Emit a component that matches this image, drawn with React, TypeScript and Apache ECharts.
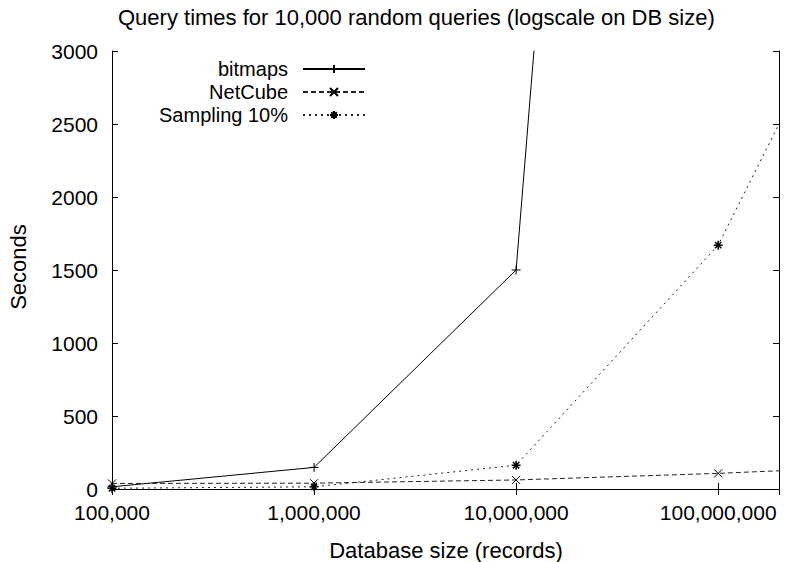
import React, { useEffect, useRef } from "react";
import * as echarts from "echarts";

const titleText = "Query times for 10,000 random queries (logscale on DB size)";
const xName = "Database size (records)";
const yName = "Seconds";
const seriesNames = ["bitmaps", "NetCube", "Sampling 10%"];

// x values (records)
const bitmapsX = [1e5, 1e6, 1e7, 1e8];
const bitmapsY = [15, 148, 1500, 18500];
const netcubeX = [1e5, 1e6, 1e7, 1e8, 2e8];
const netcubeY = [38, 40, 62, 107, 125];
const samplingX = [1e5, 1e6, 1e7, 1e8, 2e8];
const samplingY = [5, 15, 163, 1670, 2500];

const xMin = 1e5;
const xMax = 2e8;
const yMin = 0;
const yMax = 3000;
const yStep = 500;

const FONT = "'Liberation Sans', Arial, sans-serif";
const FS = 22;
const TICK_FS = 21;
const LEGEND_FS = 20;

const PLUS = "path://M5,0L5,10M0,5L10,5";
const CROSS = "path://M0,0L10,10M10,0L0,10";
const STAR = "path://M5,0L5,10M0,5L10,5M1.5,1.5L8.5,8.5M8.5,1.5L1.5,8.5";

function pairs(xs: number[], ys: number[], lastHidden: boolean) {
  return xs.map((x, i) => {
    if (lastHidden && i === xs.length - 1) {
      return { value: [x, ys[i]], symbol: "none" };
    }
    return { value: [x, ys[i]] };
  });
}

export default function App() {
  const ref = useRef<HTMLDivElement>(null);
  useEffect(() => {
    if (!ref.current) return;
    const chart = echarts.init(ref.current, undefined, { renderer: "svg" });
    const fmt = (v: number) => {
      const l = Math.log10(v);
      if (Math.abs(l - Math.round(l)) > 1e-6) return "";
      return Math.round(v).toLocaleString("en-US");
    };
    const axisCommon = {
      axisLine: { show: true, lineStyle: { color: "#000", width: 1 } },
      axisTick: { show: true, inside: true, length: 6, lineStyle: { color: "#000" } },
      splitLine: { show: false },
      minorTick: { show: false },
    };
    const legendCommon = {
      orient: "horizontal",
      align: "right",
      itemWidth: 62,
      itemHeight: 10,
      padding: 0,
      selectedMode: false,
      textStyle: { fontSize: LEGEND_FS, fontFamily: FONT, color: "#000", padding: [0, 10, 0, 0] },
      right: 419,
    };
    chart.setOption({
      animation: false,
      backgroundColor: "#fff",
      title: {
        text: titleText,
        left: 118,
        top: 6,
        padding: 0,
        textStyle: { fontSize: FS, fontWeight: "normal", fontFamily: FONT, color: "#000" },
      },
      legend: [
        { ...legendCommon, data: [seriesNames[0]], top: 59 },
        { ...legendCommon, data: [seriesNames[1]], top: 82 },
        { ...legendCommon, data: [seriesNames[2]], top: 105 },
      ],
      grid: { left: 112, right: 6, top: 51, bottom: 73, containLabel: false },
      xAxis: [
        {
          type: "log",
          logBase: 10,
          min: xMin,
          max: xMax,
          position: "bottom",
          ...axisCommon,
          axisLabel: { fontSize: TICK_FS, lineHeight: 16, fontFamily: FONT, color: "#000", margin: 15, formatter: fmt, showMaxLabel: false },
        },
        {
          type: "log",
          logBase: 10,
          min: xMin,
          max: xMax,
          position: "top",
          ...axisCommon,
          axisLabel: { show: false },
        },
      ],
      yAxis: [
        {
          type: "value",
          min: yMin,
          max: yMax,
          interval: yStep,
          position: "left",
          ...axisCommon,
          axisLabel: { fontSize: TICK_FS, lineHeight: 16, fontFamily: FONT, color: "#000", margin: 14, formatter: (v: number) => String(v) },
        },
        {
          type: "value",
          min: yMin,
          max: yMax,
          interval: yStep,
          position: "right",
          ...axisCommon,
          axisLabel: { show: false },
        },
      ],
      graphic: [
        {
          type: "text",
          x: 18,
          y: 267,
          rotation: Math.PI / 2,
          style: { text: yName, fontSize: FS, fontFamily: FONT, fill: "#000", textAlign: "center", textVerticalAlign: "middle" },
        },
        {
          type: "text",
          x: 446,
          y: 550,
          style: { text: xName, fontSize: FS, fontFamily: FONT, fill: "#000", textAlign: "center", textVerticalAlign: "middle" },
        },
      ],
      series: [
        {
          name: seriesNames[0],
          type: "line",
          data: pairs(bitmapsX, bitmapsY, false),
          symbol: PLUS,
          symbolSize: 9,
          showAllSymbol: true,
          clip: true,
          lineStyle: { color: "#000", width: 1, type: "solid" },
          itemStyle: { color: "#000", borderColor: "#000", borderWidth: 1 },
        },
        {
          name: seriesNames[1],
          type: "line",
          data: pairs(netcubeX, netcubeY, true),
          symbol: CROSS,
          symbolSize: 8,
          showAllSymbol: true,
          clip: true,
          lineStyle: { color: "#222", width: 1, type: [5, 3] },
          itemStyle: { color: "#000", borderColor: "#000", borderWidth: 1 },
        },
        {
          name: seriesNames[2],
          type: "line",
          data: pairs(samplingX, samplingY, true),
          symbol: STAR,
          symbolSize: 9,
          showAllSymbol: true,
          clip: true,
          lineStyle: { color: "#222", width: 1, type: [2, 4] },
          itemStyle: { color: "#000", borderColor: "#000", borderWidth: 1.5 },
        },
      ],
    });
    return () => chart.dispose();
  }, []);
  return (
    <div
      ref={ref}
      style={{ position: "fixed", left: 0, top: 0, width: 785, height: 562 }}
    />
  );
}
